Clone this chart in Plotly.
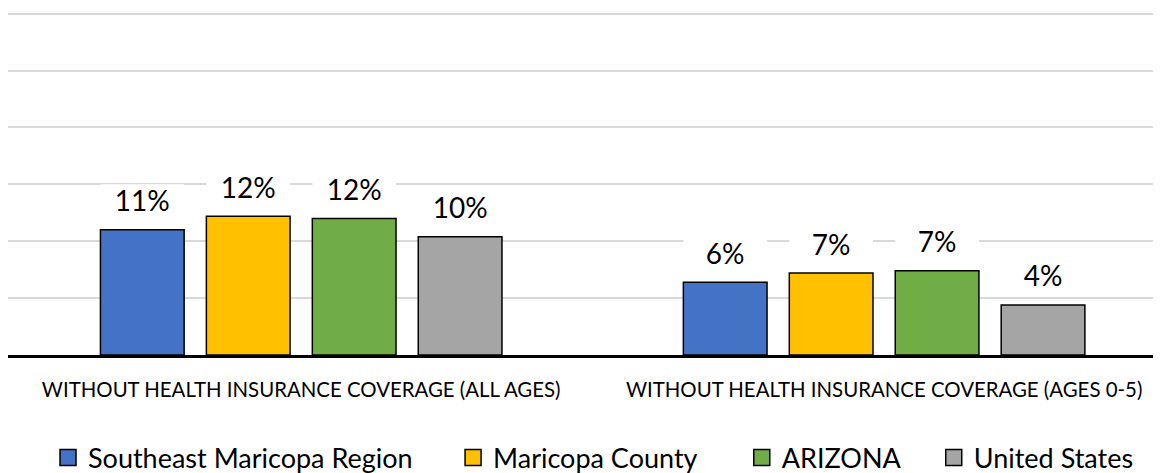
import plotly.graph_objects as go

categories = ["WITHOUT HEALTH INSURANCE COVERAGE (ALL AGES)",
              "WITHOUT HEALTH INSURANCE COVERAGE (AGES 0-5)"]
series_names = ["Southeast Maricopa Region", "Maricopa County", "ARIZONA", "United States"]
southeast = [11.0, 6.4]
maricopa = [12.2, 7.2]
arizona = [12.0, 7.4]
united_states = [10.4, 4.4]
series_values = [southeast, maricopa, arizona, united_states]
colors = ["#4472C4", "#FFC000", "#70AD47", "#A5A5A5"]

FONT = "Lato, 'Open Sans', sans-serif"
LABEL_GAP = 1.2   # % between bar top and label box
LABEL_BOX = 2.8   # % height of white label box
legend_x = [0.0347, 0.386, 0.6364, 0.8029]
legend_ids = ["legend", "legend2", "legend3", "legend4"]

fig = go.Figure()
for name, vals, col in zip(series_names, series_values, colors):
    fig.add_trace(go.Bar(
        x=categories, y=vals, name=name, offsetgroup=name, showlegend=False,
        marker=dict(color=col, line=dict(color="#000000", width=1.5)),
    ))
for name, vals in zip(series_names, series_values):
    fig.add_trace(go.Bar(
        x=categories, y=[LABEL_BOX] * len(vals), base=[v + LABEL_GAP for v in vals],
        offsetgroup=name, showlegend=False, hoverinfo="skip",
        marker=dict(color="#FFFFFF", line=dict(width=0)),
        text=[f"{v:.0f}%" for v in vals], textposition="inside",
        insidetextanchor="middle", constraintext="none",
        textfont=dict(family=FONT, size=28, color="#000000"),
        cliponaxis=False,
    ))
# legend entries (square swatches)
for name, col, lid in zip(series_names, colors, legend_ids):
    fig.add_trace(go.Scatter(
        x=[None], y=[None], mode="markers", name=name, legend=lid,
        marker=dict(symbol="square", size=16, color=col,
                    line=dict(color="#000000", width=1.5)),
        hoverinfo="skip",
    ))

legend_style = dict(orientation="h", xanchor="left", y=-0.297, yanchor="middle",
                    font=dict(family=FONT, size=27, color="#000000"),
                    itemwidth=30, bgcolor="rgba(0,0,0,0)")
layout_legends = {lid: dict(legend_style, x=lx) for lid, lx in zip(legend_ids, legend_x)}

fig.update_layout(
    width=1153, height=465,
    margin=dict(l=0, r=0, t=0, b=118, autoexpand=False),
    paper_bgcolor="#FFFFFF", plot_bgcolor="#FFFFFF",
    barmode="group", bargap=0.273, bargroupgap=0.21,
    font=dict(family=FONT, color="#000000"),
    showlegend=True,
    **layout_legends,
)
fig.update_xaxes(
    range=[-0.503, 1.475], showline=True, linecolor="#000000", linewidth=3,
    tickfont=dict(family=FONT, size=20.4, color="#000000"), ticks="",
    ticklabelstandoff=15, showgrid=False, zeroline=False, automargin=False,
)
fig.update_yaxes(
    range=[0, 30.5], dtick=5, showgrid=True, gridcolor="#D9D9D9", gridwidth=1.5,
    showticklabels=False, zeroline=False, showline=False, automargin=False,
)

fig.write_html("out.html")
